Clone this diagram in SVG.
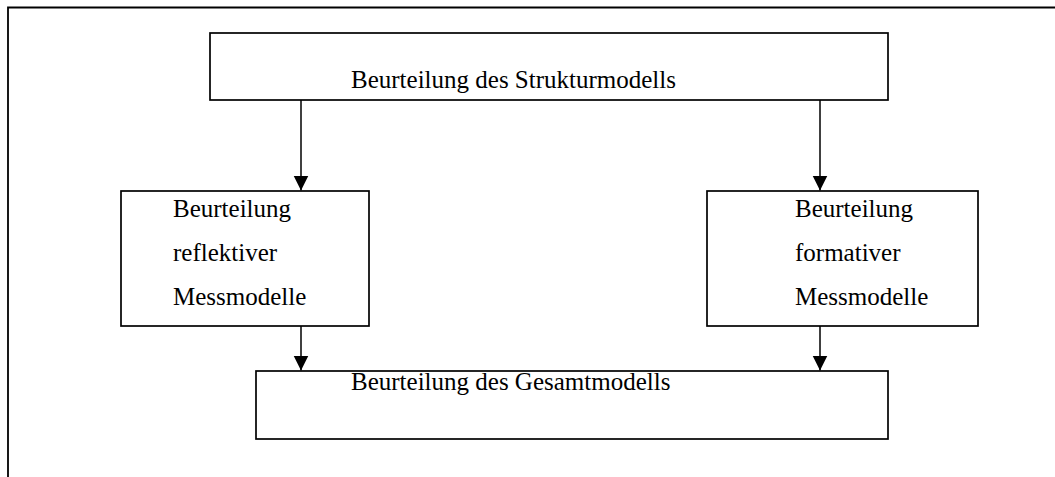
<svg xmlns="http://www.w3.org/2000/svg" width="1055" height="477" viewBox="0 0 1055 477">
  <style>
    .box { fill: #ffffff; stroke: #000000; stroke-width: 1.7; }
    .frame { fill: none; stroke: #000000; stroke-width: 1.8; }
    .edge { fill: none; stroke: #000000; stroke-width: 1.5; }
    .label { font-family: "Liberation Serif", "Times New Roman", serif; font-size: 25px; fill: #000000; }
  </style>
  <defs>
    <marker id="arrow" markerUnits="userSpaceOnUse" markerWidth="16" markerHeight="16" refX="15" refY="7.5" orient="auto">
      <path d="M0,0 L15,7.5 L0,15 Z" fill="#000000"/>
    </marker>
  </defs>

  <rect width="1055" height="477" fill="#ffffff"/>

  <!-- outer frame: top and left edges only -->
  <path class="frame" d="M8,477 L8,7.5 L1055,7.5"/>

  <g id="connectors">
    <line class="edge" x1="301" y1="100" x2="301" y2="190.5" marker-end="url(#arrow)"/>
    <line class="edge" x1="820" y1="100" x2="820" y2="190.5" marker-end="url(#arrow)"/>
    <line class="edge" x1="301" y1="326" x2="301" y2="370.5" marker-end="url(#arrow)"/>
    <line class="edge" x1="820" y1="326" x2="820" y2="370.5" marker-end="url(#arrow)"/>
  </g>

  <g id="strukturmodell">
    <rect class="box" x="210" y="33" width="678" height="67"/>
    <text class="label" x="351" y="88">Beurteilung des Strukturmodells</text>
  </g>

  <g id="reflektiv">
    <rect class="box" x="121" y="191" width="248" height="135"/>
    <text class="label" x="173" y="216.5">Beurteilung</text>
    <text class="label" x="173" y="260.5">reflektiver</text>
    <text class="label" x="173" y="304.5">Messmodelle</text>
  </g>

  <g id="formativ">
    <rect class="box" x="707" y="191" width="271" height="135"/>
    <text class="label" x="795" y="216.5">Beurteilung</text>
    <text class="label" x="795" y="260.5">formativer</text>
    <text class="label" x="795" y="304.5">Messmodelle</text>
  </g>

  <g id="gesamtmodell">
    <rect class="box" x="256" y="371" width="632" height="68"/>
    <text class="label" x="351" y="390">Beurteilung des Gesamtmodells</text>
  </g>
</svg>
